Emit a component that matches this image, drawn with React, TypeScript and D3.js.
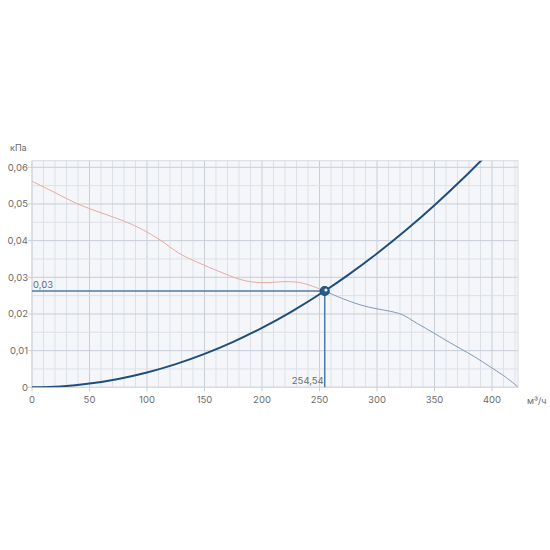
import React from "react";
import * as d3 from "d3";

const xTicks = [0, 50, 100, 150, 200, 250, 300, 350, 400];
const yTicks = [0, 0.01, 0.02, 0.03, 0.04, 0.05, 0.06];
const yTickLabels = ["0", "0,01", "0,02", "0,03", "0,04", "0,05", "0,06"];

// fan curve (flow m³/h, pressure kPa)
const fanFlow = [0, 20, 39.7, 60, 79.4, 95, 111.3, 128.7, 146, 163.5, 180, 192, 205, 220, 230, 240, 254.54, 270, 285.2, 300, 312, 322, 335, 348.9, 360, 372.2, 385, 398.3, 410, 422.3];
const fanPressure = [0.0562, 0.0531, 0.0500, 0.0476, 0.0454, 0.0432, 0.0402, 0.0364, 0.0338, 0.0315, 0.0295, 0.0287, 0.0286, 0.0288, 0.0287, 0.0280, 0.02626, 0.0242, 0.0225, 0.0214, 0.0207, 0.0198, 0.0174, 0.0149, 0.0128, 0.0106, 0.0083, 0.0056, 0.0032, 0.0002];

// system curve
const sysFlow = [0, 25, 50, 75, 100, 125, 150, 175, 200, 225, 254.54, 275, 300, 325, 350, 375, 400];
const sysPressure = [0, 0.00025, 0.00101, 0.00228, 0.00405, 0.00633, 0.00912, 0.01241, 0.01621, 0.02052, 0.02626, 0.03065, 0.03648, 0.04281, 0.04965, 0.05699, 0.06485];

const opFlow = 254.54;
const opPressure = 0.02626;
const opFlowLabel = "254,54";
const opPressureLabel = "0,03";

const X_MAX = 422.6;
const Y_MAX = 0.0618;

export default function App() {
  const W = 550, H = 550;
  const left = 32, right = 518, top = 160.7, bottom = 387.3;
  const x = d3.scaleLinear().domain([0, X_MAX]).range([left, right]);
  const y = d3.scaleLinear().domain([0, Y_MAX]).range([bottom, top]);

  const line = d3.line<[number, number]>().x(d => x(d[0])).y(d => y(d[1])).curve(d3.curveCatmullRom.alpha(0.5));

  const fanPts: [number, number][] = fanFlow.map((f, i) => [f, fanPressure[i]]);
  const opIdx = fanFlow.indexOf(opFlow);
  const fanBefore = fanPts.slice(0, opIdx + 1);
  const fanAfter = fanPts.slice(opIdx);
  const sysPts: [number, number][] = sysFlow.map((f, i) => [f, sysPressure[i]]);

  const minorX = d3.range(0, X_MAX, 10);
  const minorY = d3.range(0, Y_MAX, 0.005);

  const font = "Inter, 'Noto Sans', sans-serif";
  const labelColor = "#6b6b6b";

  return (
    <svg width={W} height={H} style={{ position: "absolute", left: 0, top: 0 }}>
      <defs>
        <clipPath id="plot">
          <rect x={left} y={top} width={right - left} height={bottom - top} />
        </clipPath>
      </defs>
      <rect x={left} y={top} width={right - left} height={bottom - top} fill="#f4f6f9" />
      {minorX.map(v => (
        <line key={"mx" + v} x1={x(v)} x2={x(v)} y1={top} y2={bottom} stroke={v % 50 === 0 ? "#c9ced6" : "#dde1e7"} strokeWidth={1} />
      ))}
      {minorY.map((v, i) => (
        <line key={"my" + i} x1={left} x2={right} y1={y(v)} y2={y(v)} stroke={i % 2 === 0 ? "#c9ced6" : "#dde1e7"} strokeWidth={1} />
      ))}
      <rect x={left} y={top} width={right - left} height={bottom - top} fill="none" stroke="#d6dae0" strokeWidth={1} />

      {yTicks.map((v, i) => (
        <g key={"yt" + i}>
          <line x1={left - 4} x2={left} y1={y(v)} y2={y(v)} stroke="#c9ced6" />
          <text x={left - 4} y={y(v)} dy="0.35em" textAnchor="end" fontSize={9.5} fill={labelColor} fontFamily={font}>{yTickLabels[i]}</text>
        </g>
      ))}
      {xTicks.map(v => (
        <g key={"xt" + v}>
          <line x1={x(v)} x2={x(v)} y1={bottom} y2={bottom + 4} stroke="#c9ced6" />
          <text x={x(v)} y={bottom + 16} textAnchor="middle" fontSize={9.5} fill={labelColor} fontFamily={font}>{v}</text>
        </g>
      ))}
      <text x={10} y={151} fontSize={9} fill={labelColor} fontFamily={font}>кПа</text>
      <text x={527} y={404} fontSize={9} fill={labelColor} fontFamily={font}>м³/ч</text>

      <g clipPath="url(#plot)">
        <line x1={left} x2={x(opFlow)} y1={y(opPressure)} y2={y(opPressure)} stroke="#4f7aa3" strokeWidth={1.5} />
        <line x1={x(opFlow)} x2={x(opFlow)} y1={y(opPressure)} y2={bottom} stroke="#4f7aa3" strokeWidth={1.5} />
        <path d={line(fanBefore) || ""} fill="none" stroke="#e7aaa0" strokeWidth={1} />
        <path d={line(fanAfter) || ""} fill="none" stroke="#7f9ab5" strokeWidth={1} />
        <path d={line(sysPts) || ""} fill="none" stroke="#1e4f7c" strokeWidth={2} />
      </g>
      <text x={33} y={y(opPressure) - 3} fontSize={9.5} fill={labelColor} fontFamily={font}>{opPressureLabel}</text>
      <text x={x(opFlow) - 1} y={bottom - 3} textAnchor="end" fontSize={9.5} fill={labelColor} fontFamily={font}>{opFlowLabel}</text>
      <circle cx={x(opFlow)} cy={y(opPressure)} r={4.5} fill="#2a5a88" stroke="#1e4f7c" strokeWidth={1.2} />
      <circle cx={x(opFlow) + 1.2} cy={y(opPressure) - 1} r={1.6} fill="#e8eef5" />
    </svg>
  );
}
